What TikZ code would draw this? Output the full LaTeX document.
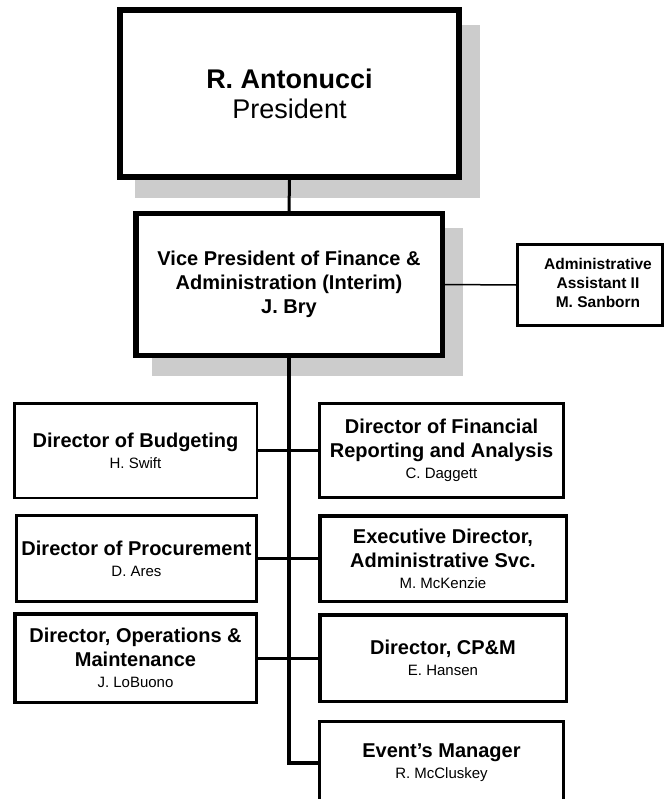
\documentclass[tikz,border=0pt]{standalone}
\usepackage{fontspec}
\setmainfont{Liberation Sans}
\definecolor{shadowc}{HTML}{CCCCCC}
\newcommand{\pname}[1]{{\fontsize{15}{18}\mdseries\selectfont #1}}
\begin{document}
\begin{tikzpicture}[x=1pt,y=-1pt,
  box/.style={draw, fill=white, inner sep=0pt, align=center,
    font=\fontsize{20}{24}\bfseries\selectfont},
  link/.style={line width=3pt},
  trunk/.style={line width=4pt}]
\useasboundingbox (0,0) rectangle (664,799);
\fill[white] (0,0) rectangle (664,799);
% shadows
\fill[shadowc] (135,25) rectangle (480,198);
\fill[shadowc] (152,228) rectangle (463,376);
% top boxes
\node[box, line width=6pt, minimum width=339pt, minimum height=167pt,
  font=\fontsize{27}{30}\selectfont] (P) at (289.5,93.5)
  {\textbf{R. Antonucci}\\President};
\node[box, line width=5.5pt, minimum width=306.5pt, minimum height=141.5pt] (VP) at (289,284.5)
  {Vice President of Finance \&\\Administration (Interim)\\J. Bry};
\node[box, line width=3pt, minimum width=145pt, minimum height=81pt] (adm) at (590,285) {};
\node[align=center, inner sep=0pt, font=\fontsize{15.5}{19}\bfseries\selectfont] (admt) at (598,283)
  {Administrative\\Assistant II\\M. Sanborn};
% left column
\node[box, line width=2.5pt, minimum width=242.5pt, minimum height=94.5pt] (bud) at (135.5,450.5)
  {Director of Budgeting\\[-3pt]\pname{H. Swift}};
\node[box, line width=3pt, minimum width=240pt, minimum height=86pt] (proc) at (136.5,558.5)
  {Director of Procurement\\[-3pt]\pname{D. Ares}};
\node[box, line width=3.5pt, minimum width=241.5pt, minimum height=88.5pt] (ops) at (135.5,658)
  {Director, Operations \&\\Maintenance\\[-3pt]\pname{J. LoBuono}};
% right column
\node[box, line width=3pt, minimum width=244pt, minimum height=94pt] (fin) at (441.5,450.5)
  {Director of Financial\\Reporting and Analysis\\[-3pt]\pname{C. Daggett}};
\node[box, line width=3.5pt, minimum width=246.5pt, minimum height=85.5pt] (exec) at (443,558.5)
  {Executive Director,\\Administrative Svc.\\[-3pt]\pname{M. McKenzie}};
\node[box, line width=3.5pt, minimum width=246.5pt, minimum height=86.5pt] (cpm) at (443,658)
  {Director, CP\&M\\[-3pt]\pname{E. Hansen}};
\node[box, line width=3pt, minimum width=244pt, minimum height=83pt] (evt) at (441.5,763)
  {Event’s Manager\\[-3pt]\pname{R. McCluskey}};
% connectors
\draw[link] (P.south) -- (VP.north);
\draw[line width=1.5pt] (VP.east) -- (adm.west);
\draw[trunk] (VP.south) |- (evt.west);
\draw[link] (bud.east) -- (fin.west);
\draw[link] (proc.east) -- (exec.west);
\draw[link] (ops.east) -- (cpm.west);
\end{tikzpicture}
\end{document}
